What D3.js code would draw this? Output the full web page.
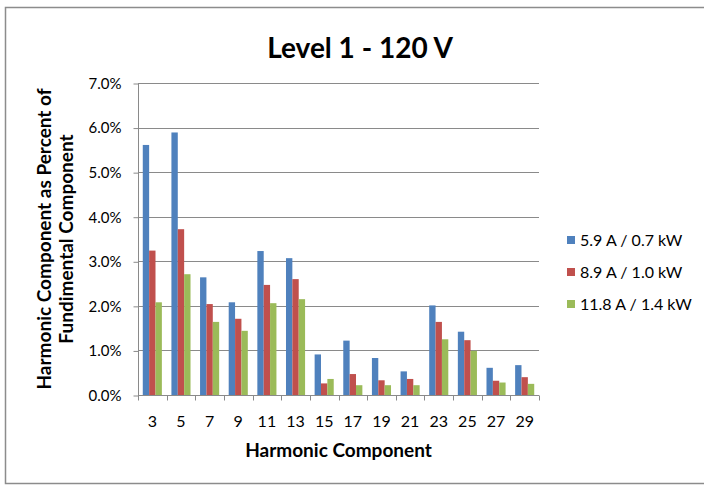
<!DOCTYPE html>
<meta charset="utf-8">
<style>
  body { margin: 0; background: #fff; }
  text { font-family: Lato, Carlito, Calibri, sans-serif; fill: #000; }
</style>
<body>
<script src="https://d3js.org/d3.v7.min.js"></script>
<script>
// harmonic orders along the x axis
var harmonics = ["3", "5", "7", "9", "11", "13", "15", "17", "19", "21", "23", "25", "27", "29"];
// series names for the legend
var seriesNames = ["5.9 A / 0.7 kW", "8.9 A / 1.0 kW", "11.8 A / 1.4 kW"];
// values, in percent of fundamental
var load59 = [5.61, 5.89, 2.64, 2.08, 3.23, 3.07, 0.91, 1.22, 0.83, 0.53, 2.01, 1.42, 0.61, 0.67];
var load89 = [3.24, 3.72, 2.04, 1.71, 2.47, 2.60, 0.26, 0.47, 0.33, 0.36, 1.64, 1.23, 0.32, 0.40];
var load118 = [2.08, 2.71, 1.64, 1.44, 2.06, 2.15, 0.36, 0.22, 0.22, 0.22, 1.25, 0.99, 0.28, 0.25];
var yTicks = [0, 1, 2, 3, 4, 5, 6, 7];
var colors = ["#4F81BD", "#C0504D", "#9BBB59"];

var series = [load59, load89, load118];

var W = 704, H = 485;
var plot = {left: 138, right: 539, top: 83, bottom: 395};

var svg = d3.select("body").append("svg")
    .attr("width", W)
    .attr("height", H);

// outer chart frame (right edge is off the picture)
svg.append("rect")
    .attr("x", 5.5).attr("y", 7.5)
    .attr("width", 720).attr("height", 476)
    .attr("fill", "none")
    .attr("stroke", "#8c8c8c")
    .attr("stroke-width", 1.5);

var x = d3.scaleBand()
    .domain(harmonics)
    .range([plot.left, plot.right]);

// Excel-ish gap width 150%
var barW = x.bandwidth() / 4.5;
var x1 = d3.scaleBand()
    .domain(d3.range(series.length))
    .range([0.75 * barW, 0.75 * barW + 3 * barW]);

var y = d3.scaleLinear()
    .domain([0, 7])
    .range([plot.bottom, plot.top]);

// gridlines
svg.append("g")
    .selectAll("line")
    .data(yTicks.slice(1))
    .enter().append("line")
    .attr("x1", plot.left).attr("x2", plot.right)
    .attr("y1", function(d) { return Math.round(y(d)) + 0.5; })
    .attr("y2", function(d) { return Math.round(y(d)) + 0.5; })
    .attr("stroke", "#8a8a8a")
    .attr("stroke-width", 1);

// bars
var groups = svg.append("g")
    .selectAll("g")
    .data(series)
    .enter().append("g")
    .attr("fill", function(d, i) { return colors[i]; });

groups.each(function(vals, si) {
    d3.select(this).selectAll("rect")
        .data(vals)
        .enter().append("rect")
        .attr("x", function(d, i) { return x(harmonics[i]) + x1(si); })
        .attr("width", x1.bandwidth())
        .attr("y", function(d) { return y(d); })
        .attr("height", function(d) { return y(0) - y(d); });
});

// y axis
var yAxis = svg.append("g")
    .attr("transform", "translate(" + (plot.left + 0.5) + ",0.5)")
    .call(d3.axisLeft(y)
        .tickValues(yTicks)
        .tickSize(5)
        .tickPadding(12)
        .tickFormat(function(d) { return d.toFixed(1) + "%"; }));
yAxis.select(".domain").attr("stroke", "#8a8a8a").attr("d", "M0," + plot.top + "V" + plot.bottom);
yAxis.selectAll(".tick line").attr("stroke", "#8a8a8a");
yAxis.selectAll("text").style("font-size", "15px");

// x axis, ticks sit between categories
var xAxis = svg.append("g")
    .attr("transform", "translate(0," + (plot.bottom + 0.5) + ")");
xAxis.append("line")
    .attr("x1", plot.left).attr("x2", plot.right)
    .attr("stroke", "#8a8a8a");
xAxis.selectAll(".sep")
    .data(harmonics.concat(["end"]))
    .enter().append("line")
    .attr("class", "sep")
    .attr("x1", function(d, i) { return Math.round(plot.left + i * x.step()) + 0.5; })
    .attr("x2", function(d, i) { return Math.round(plot.left + i * x.step()) + 0.5; })
    .attr("y1", 0).attr("y2", 5)
    .attr("stroke", "#8a8a8a");
xAxis.selectAll(".lbl")
    .data(harmonics)
    .enter().append("text")
    .attr("x", function(d) { return x(d) + x.bandwidth() / 2; })
    .attr("y", 31)
    .attr("text-anchor", "middle")
    .style("font-size", "16px")
    .text(function(d) { return d; });

// title
svg.append("text")
    .attr("x", 360).attr("y", 58)
    .attr("text-anchor", "middle")
    .style("font-size", "28px")
    .style("font-weight", "bold")
    .text("Level 1 - 120 V");

// axis titles
svg.append("text")
    .attr("x", (plot.left + plot.right) / 2).attr("y", 457)
    .attr("text-anchor", "middle")
    .style("font-size", "19px")
    .style("font-weight", "bold")
    .text("Harmonic Component");

var yt = svg.append("text")
    .attr("transform", "translate(51," + ((plot.top + plot.bottom) / 2) + ") rotate(-90)")
    .attr("text-anchor", "middle")
    .style("font-size", "19px")
    .style("font-weight", "bold");
yt.append("tspan").attr("x", 0).attr("y", 0).text("Harmonic Component as Percent of");
yt.append("tspan").attr("x", 0).attr("y", 22).text("Fundimental Component");

// legend
var legend = svg.append("g")
    .selectAll("g")
    .data(seriesNames)
    .enter().append("g")
    .attr("transform", function(d, i) { return "translate(567," + (240 + i * 32) + ")"; });
legend.append("rect")
    .attr("x", 0).attr("y", -4)
    .attr("width", 8).attr("height", 8)
    .attr("fill", function(d, i) { return colors[i]; });
legend.append("text")
    .attr("x", 13).attr("y", 5.5)
    .style("font-size", "16px")
    .text(function(d) { return d; });
</script>
</body>
